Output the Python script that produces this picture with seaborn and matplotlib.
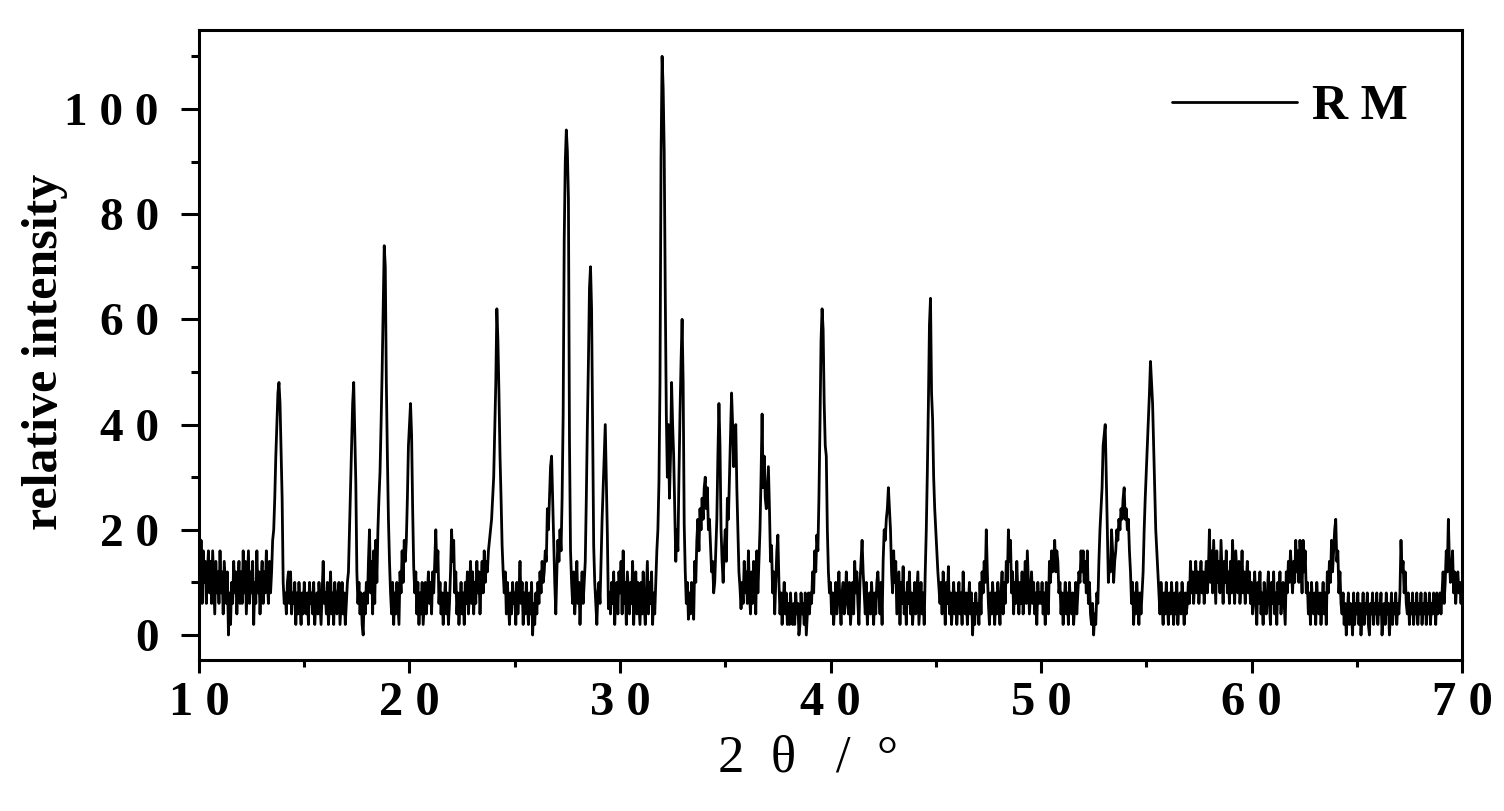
# XRD pattern "R M" : relative intensity vs 2θ
import numpy as np
import matplotlib
matplotlib.use("Agg")
import matplotlib.pyplot as plt
from matplotlib.ticker import MultipleLocator
import seaborn as sns

# intensities, one value every 0.05° (one row = 1°)
i_10_20 = [
    20, 8, 18, 6, 16, 10, 14, 6, 12, 16, 8, 14, 6, 16, 10, 4, 14, 8, 12, 6,
    16, 8, 12, 4, 14, 10, 6, 12, 0, 8, 2, 10, 6, 14, 8, 12, 4, 10, 14, 6,
    12, 6, 16, 8, 14, 4, 10, 16, 6, 12, 8, 14, 2, 10, 6, 16, 8, 12, 4, 10,
    14, 6, 12, 8, 16, 10, 6, 14, 8, 12, 18, 20, 26, 34, 40, 46, 48, 44, 35, 26,
    10, 6, 8, 4, 10, 12, 6, 12, 4, 8, 6, 10, 2, 8, 4, 10, 6, 2, 8, 4,
    10, 6, 4, 8, 2, 10, 6, 8, 4, 10, 2, 6, 8, 4, 10, 6, 2, 8, 14, 6,
    8, 4, 10, 2, 6, 12, 4, 8, 2, 10, 6, 4, 8, 10, 2, 6, 10, 4, 8, 2,
    6, 10, 12, 20, 28, 36, 44, 48, 38, 29, 12, 6, 10, 4, 8, 2, 0, 8, 4, 10,
    6, 14, 20, 8, 14, 4, 16, 6, 18, 10, 20, 26, 31, 40, 50, 62, 74, 70, 48, 34,
    22, 14, 8, 4, 10, 2, 8, 4, 10, 6, 2, 12, 8, 16, 10, 18, 14, 18, 26, 36,
]
i_20_30 = [
    40, 44, 38, 24, 13, 8, 12, 4, 10, 2, 8, 4, 10, 2, 6, 10, 4, 8, 12, 6,
    10, 4, 12, 8, 14, 20, 12, 16, 6, 10, 4, 8, 2, 6, 10, 4, 8, 2, 6, 12,
    20, 14, 18, 8, 12, 4, 8, 2, 6, 10, 4, 8, 2, 10, 6, 12, 4, 8, 14, 6,
    12, 4, 10, 6, 14, 8, 12, 4, 10, 14, 8, 16, 10, 14, 12, 16, 18, 20, 22, 26,
    30, 39, 48, 62, 56, 46, 34, 26, 17, 12, 8, 12, 4, 10, 6, 2, 8, 4, 10, 6,
    8, 2, 10, 4, 8, 14, 6, 10, 2, 8, 4, 10, 6, 2, 8, 4, 10, 0, 6, 2,
    8, 4, 10, 6, 12, 8, 14, 10, 12, 16, 14, 24, 20, 26, 32, 34, 26, 18, 10, 4,
    12, 18, 14, 20, 16, 26, 42, 75, 90, 96, 92, 83, 37, 16, 10, 6, 12, 4, 8, 14,
    6, 10, 2, 8, 12, 6, 10, 14, 26, 40, 52, 66, 70, 62, 39, 17, 10, 6, 2, 8,
    10, 6, 14, 22, 28, 34, 40, 30, 19, 5, 8, 4, 10, 6, 12, 2, 8, 10, 4, 12,
]
i_30_40 = [
    8, 14, 4, 16, 6, 10, 2, 12, 8, 4, 10, 6, 14, 2, 8, 12, 4, 10, 6, 2,
    10, 4, 12, 6, 2, 8, 14, 4, 10, 6, 12, 2, 8, 4, 10, 16, 20, 29, 48, 91,
    110, 104, 92, 65, 42, 30, 40, 26, 34, 48, 40, 34, 24, 14, 20, 16, 30, 42, 52, 60,
    48, 21, 12, 6, 10, 3, 8, 4, 10, 6, 3, 14, 10, 18, 22, 16, 24, 20, 26, 22,
    28, 30, 24, 28, 20, 22, 17, 12, 14, 8, 10, 16, 22, 34, 44, 36, 20, 14, 10, 16,
    20, 14, 26, 22, 30, 38, 46, 40, 32, 38, 40, 28, 20, 12, 9, 5, 10, 6, 14, 8,
    12, 6, 16, 8, 4, 12, 6, 14, 10, 4, 16, 8, 14, 20, 30, 42, 28, 34, 26, 24,
    28, 32, 24, 14, 17, 8, 12, 4, 10, 16, 19, 10, 4, 8, 2, 6, 10, 4, 8, 2,
    6, 2, 8, 4, 2, 6, 2, 8, 4, 6, 0, 2, 8, 4, 6, 2, 8, 0, 4, 8,
    4, 8, 6, 12, 8, 16, 12, 19, 16, 26, 40, 56, 62, 58, 44, 36, 34, 20, 12, 8,
]
i_40_50 = [
    10, 4, 8, 2, 6, 10, 4, 8, 12, 6, 2, 8, 10, 4, 6, 12, 8, 4, 10, 2,
    6, 10, 4, 14, 8, 12, 6, 2, 10, 14, 18, 12, 8, 4, 10, 2, 6, 8, 4, 10,
    6, 2, 8, 4, 10, 12, 8, 4, 10, 2, 14, 20, 18, 22, 24, 28, 24, 20, 12, 8,
    16, 10, 14, 4, 8, 12, 2, 10, 6, 13, 4, 8, 2, 10, 6, 12, 4, 8, 2, 6,
    10, 4, 8, 12, 2, 6, 10, 4, 8, 2, 12, 20, 31, 44, 59, 64, 46, 41, 30, 24,
    20, 16, 12, 9, 6, 10, 4, 12, 8, 2, 10, 6, 13, 4, 8, 2, 6, 10, 4, 8,
    2, 6, 10, 4, 8, 2, 12, 6, 4, 8, 2, 6, 10, 4, 8, 0, 6, 2, 8, 4,
    6, 2, 10, 4, 12, 8, 14, 10, 20, 12, 6, 2, 8, 4, 10, 6, 2, 8, 4, 10,
    6, 2, 8, 12, 4, 10, 6, 14, 10, 20, 14, 18, 8, 12, 4, 10, 6, 14, 8, 4,
    10, 6, 12, 4, 8, 14, 6, 16, 10, 4, 8, 12, 6, 10, 4, 8, 2, 10, 6, 8,
]
i_50_60 = [
    6, 10, 4, 8, 2, 10, 6, 4, 14, 10, 16, 12, 14, 18, 12, 16, 14, 8, 10, 4,
    8, 2, 6, 10, 4, 8, 2, 10, 6, 4, 8, 2, 6, 10, 4, 8, 12, 10, 16, 12,
    16, 10, 14, 8, 16, 6, 10, 4, 2, 6, 0, 4, 2, 8, 6, 14, 20, 24, 28, 36,
    38, 40, 30, 20, 10, 14, 12, 20, 16, 10, 14, 16, 20, 18, 22, 20, 24, 22, 26, 28,
    22, 24, 20, 22, 16, 12, 6, 10, 2, 8, 4, 10, 6, 2, 8, 4, 8, 12, 20, 26,
    31, 36, 41, 46, 52, 48, 44, 36, 28, 20, 16, 12, 8, 4, 10, 6, 2, 8, 4, 10,
    6, 2, 8, 4, 10, 6, 2, 8, 4, 10, 2, 6, 8, 4, 10, 6, 2, 8, 4, 6,
    10, 6, 14, 8, 12, 6, 10, 14, 8, 12, 6, 10, 14, 8, 12, 6, 10, 14, 8, 12,
    20, 10, 16, 8, 18, 12, 6, 16, 10, 14, 8, 18, 12, 6, 14, 10, 16, 8, 12, 6,
    14, 8, 18, 10, 6, 16, 12, 8, 14, 6, 10, 16, 8, 12, 6, 10, 14, 8, 12, 6,
]
i_60_70 = [
    10, 4, 8, 12, 6, 2, 10, 6, 12, 4, 8, 2, 10, 6, 4, 8, 12, 6, 2, 10,
    6, 12, 4, 8, 2, 10, 6, 12, 4, 8, 10, 6, 2, 12, 8, 14, 10, 16, 12, 8,
    14, 10, 18, 12, 16, 10, 18, 14, 8, 18, 12, 16, 8, 10, 4, 8, 2, 10, 6, 4,
    8, 2, 10, 6, 4, 8, 2, 6, 10, 4, 8, 2, 12, 8, 14, 10, 18, 12, 16, 20,
    22, 14, 16, 8, 12, 6, 4, 8, 2, 6, 0, 4, 8, 2, 6, 4, 0, 8, 2, 6,
    4, 8, 2, 6, 0, 4, 8, 2, 6, 4, 8, 2, 0, 6, 4, 8, 2, 6, 4, 8,
    2, 6, 4, 8, 0, 4, 6, 2, 8, 4, 6, 0, 4, 8, 2, 6, 4, 8, 2, 6,
    4, 8, 18, 12, 14, 8, 12, 6, 4, 8, 2, 6, 4, 8, 2, 6, 4, 8, 2, 6,
    4, 8, 2, 6, 4, 8, 2, 6, 4, 8, 2, 6, 4, 8, 6, 2, 8, 4, 6, 8,
    4, 8, 12, 6, 10, 16, 12, 22, 14, 10, 12, 16, 8, 12, 6, 10, 12, 8, 10, 6,
    10,
]

x_ticks = [10, 20, 30, 40, 50, 60, 70]
y_ticks = [0, 20, 40, 60, 80, 100]

intensity = np.array(i_10_20 + i_20_30 + i_30_40 + i_40_50 + i_50_60 + i_60_70)
two_theta = np.linspace(10, 70, len(intensity))

sns.set_style("white")
plt.rcParams['font.family'] = ['Liberation Serif', 'DejaVu Serif']
# seaborn greys the text, the original is plain black
for key in ['text.color', 'axes.labelcolor', 'xtick.color', 'ytick.color']:
    plt.rcParams[key] = 'black'

fig = plt.figure(figsize=(15.04, 8.11), dpi=100)
ax = fig.add_axes([0.1323, 0.1862, 0.8398, 0.7768])

sns.lineplot(x=two_theta, y=intensity, color='black', linewidth=2.0,
             ax=ax, label='R M')

ax.set_xlim(10, 70)
ax.set_ylim(-4.75, 115)
ax.set_xticks(x_ticks)
ax.set_xticklabels([" ".join(str(v)) for v in x_ticks],
                   fontsize=35, fontweight='bold')
ax.set_yticks(y_ticks)
ax.set_yticklabels([" ".join(str(v)) for v in y_ticks],
                   fontsize=34, fontweight='bold')
ax.xaxis.set_minor_locator(MultipleLocator(5))
ax.yaxis.set_minor_locator(MultipleLocator(10))

ax.tick_params(which='both', direction='out', width=2.2, color='black',
               bottom=True, left=True, top=False, right=False)
ax.tick_params(axis='x', which='major', length=9, pad=6)
ax.tick_params(axis='x', which='minor', length=5)
ax.tick_params(axis='y', which='major', length=13, pad=16)
ax.tick_params(axis='y', which='minor', length=6)

for s in ax.spines.values():
    s.set_visible(True)
    s.set_linewidth(2.2)
    s.set_color('black')

ax.set_xlabel("2  θ   /  °", fontsize=38)
ax.xaxis.set_label_coords(0.482, -0.118)
ax.set_ylabel("relative intensity", fontsize=36, fontweight='bold')
ax.yaxis.set_label_coords(-0.104, 0.489)

ax.legend(loc='upper right', bbox_to_anchor=(0.973, 0.946), borderaxespad=0,
          frameon=False, handlelength=2.5, handletextpad=0.3,
          prop=dict(weight='bold', size=36))

fig.savefig("out.png", dpi=100)
